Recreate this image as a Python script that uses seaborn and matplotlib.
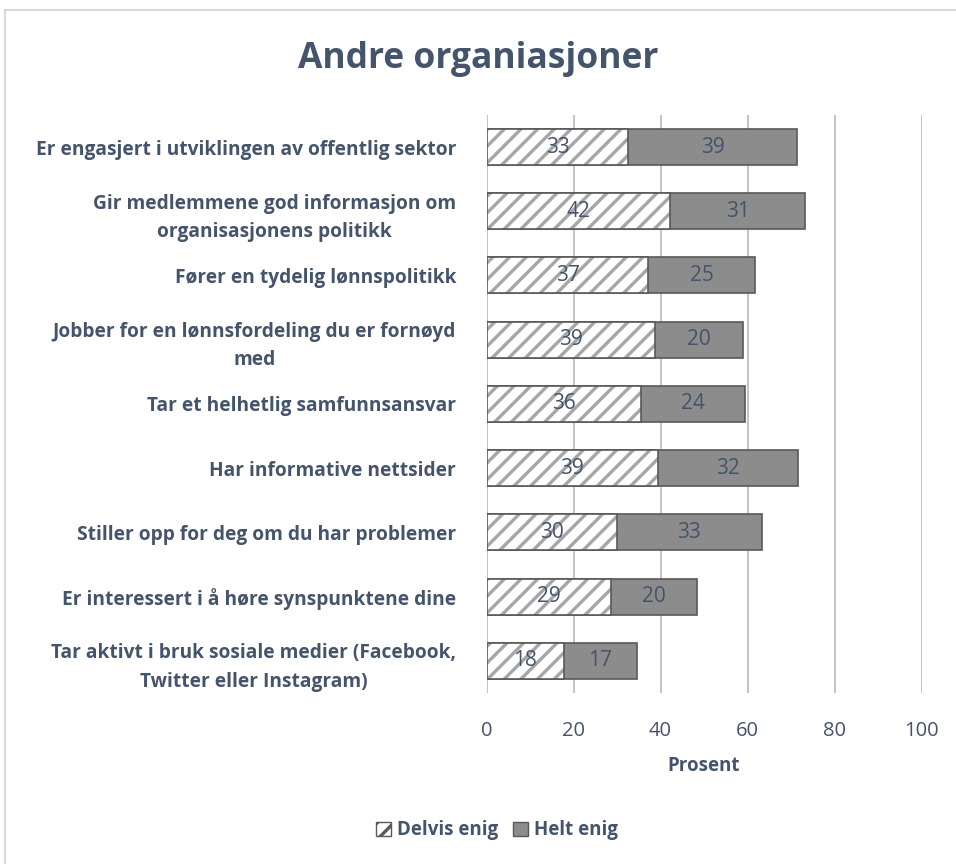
import numpy as np
import pandas as pd
import seaborn as sns
import matplotlib.pyplot as plt
from matplotlib.patches import Patch, Rectangle

# data
categories = [
    "Er engasjert i utviklingen av offentlig sektor",
    "Gir medlemmene god informasjon om\norganisasjonens politikk",
    "Fører en tydelig lønnspolitikk",
    "Jobber for en lønnsfordeling du er fornøyd\nmed",
    "Tar et helhetlig samfunnsansvar",
    "Har informative nettsider",
    "Stiller opp for deg om du har problemer",
    "Er interessert i å høre synspunktene dine",
    "Tar aktivt i bruk sosiale medier (Facebook,\nTwitter eller Instagram)",
]
delvis = [32.6, 42.1, 37.2, 38.6, 35.6, 39.3, 29.9, 28.6, 17.7]
helt = [38.7, 31.2, 24.6, 20.3, 23.8, 32.4, 33.3, 19.7, 16.8]
series_names = ["Delvis enig", "Helt enig"]
xticks = [0, 20, 40, 60, 80, 100]

slate = "#44546A"
edge = "#595959"

sns.set_style("white")
plt.rcParams["font.family"] = ["Open Sans", "DejaVu Sans"]
plt.rcParams["hatch.linewidth"] = 2.4

df = pd.DataFrame({"cat": categories, "delvis": delvis, "helt": helt})
df["total"] = df["delvis"] + df["helt"]

fig = plt.figure(figsize=(9.56, 8.64), dpi=100)
ax = fig.add_axes([0.509, 0.198, 0.455, 0.669])

# total bar (grey), then hatched first part on top
sns.barplot(data=df, y="cat", x="total", color="#8C8C8C", saturation=1,
            edgecolor=edge, linewidth=1.2, width=0.56, ax=ax, zorder=2)
sns.barplot(data=df, y="cat", x="delvis", color="white", saturation=1,
            edgecolor="#A6A6A6", linewidth=0, hatch="//", width=0.56,
            ax=ax, zorder=3)
sns.barplot(data=df, y="cat", x="delvis", fill=False,
            edgecolor=edge, linewidth=1.2, width=0.56, ax=ax, zorder=4)

for i, (a, b) in enumerate(zip(delvis, helt)):
    ax.text(a / 2, i, f"{a:.0f}", ha="center", va="center",
            fontsize=15, color=slate, zorder=5)
    ax.text(a + b / 2, i, f"{b:.0f}", ha="center", va="center",
            fontsize=15, color=slate, zorder=5)

ax.set_xlim(0, 100)
ax.set_xticks(xticks)
ax.set_xticklabels([str(t) for t in xticks], fontsize=14.5, color=slate)
ax.tick_params(axis="x", length=0, pad=20)
ax.tick_params(axis="y", length=0, pad=22)
for lbl in ax.get_yticklabels():
    lbl.set_fontsize(13.8)
    lbl.set_fontweight("bold")
    lbl.set_color(slate)
    lbl.set_multialignment("center")
    lbl.set_linespacing(1.55)
ax.set_ylabel("")
ax.set_xlabel("Prosent", fontsize=13.5, fontweight="bold", color=slate,
              labelpad=11)
ax.grid(axis="x", color="#BFBFBF", linewidth=1.3, zorder=0)
ax.set_axisbelow(True)
for s in ax.spines.values():
    s.set_visible(False)

fig.suptitle("Andre organiasjoner", x=0.5, y=0.953, fontsize=25.5,
             fontweight="bold", color=slate)

handles = [
    Patch(facecolor="white", edgecolor=edge, hatch="//", label=series_names[0]),
    Patch(facecolor="#8C8C8C", edgecolor=edge, label=series_names[1]),
]
leg = fig.legend(handles=handles, loc="center", bbox_to_anchor=(0.52, 0.039),
                 ncol=2, frameon=False, handlelength=0.8, handleheight=0.8,
                 columnspacing=0.8, handletextpad=0.3,
                 prop={"weight": "bold", "size": 13.5})
for t in leg.get_texts():
    t.set_color(slate)

fig.patches.append(Rectangle((0.005, -0.01), 1.0, 0.998, transform=fig.transFigure,
                             fill=False, edgecolor="#D9D9D9", linewidth=1.5))

fig.savefig("out.png", dpi=100)
